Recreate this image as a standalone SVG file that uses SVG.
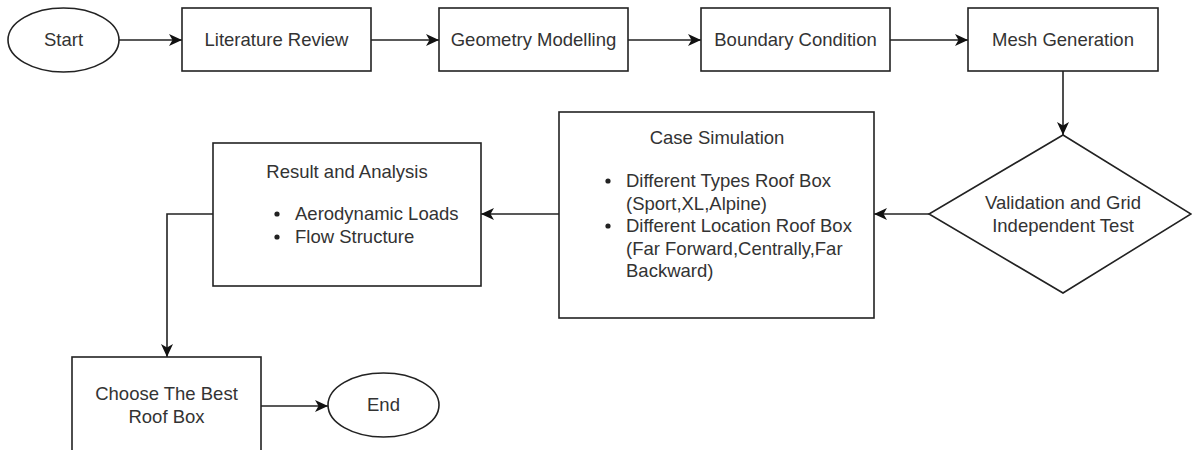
<svg xmlns="http://www.w3.org/2000/svg" width="1192" height="450" viewBox="0 0 1192 450">
<style>
.shape{fill:#fff;stroke:#222;stroke-width:1.6}
.edge{fill:none;stroke:#222;stroke-width:1.6}
text{font-family:"Liberation Sans",Arial,sans-serif;font-size:18.5px;fill:#333}
.c{text-anchor:middle}
.dot{fill:#222}
</style>
<defs>
<marker id="arr" markerUnits="userSpaceOnUse" markerWidth="14" markerHeight="12" refX="13" refY="6" orient="auto">
<path d="M0,0 L13,6 L0,12 L3.5,6 Z" fill="#111"/>
</marker>
</defs>
<rect width="1192" height="450" fill="#fff"/>
<g id="connectors">
<path class="edge" d="M119,40 H182" marker-end="url(#arr)"/>
<path class="edge" d="M371,40 H439" marker-end="url(#arr)"/>
<path class="edge" d="M628,40 H701" marker-end="url(#arr)"/>
<path class="edge" d="M890,40 H968" marker-end="url(#arr)"/>
<path class="edge" d="M1063,71 V135" marker-end="url(#arr)"/>
<path class="edge" d="M929,214 H874" marker-end="url(#arr)"/>
<path class="edge" d="M559,214 H481" marker-end="url(#arr)"/>
<path class="edge" d="M213,214 H167 V357" marker-end="url(#arr)"/>
<path class="edge" d="M261,406 H328" marker-end="url(#arr)"/>
</g>
<g id="start">
<ellipse class="shape" cx="63.5" cy="40" rx="55.5" ry="32"/>
<text class="c" x="63.5" y="46">Start</text>
</g>
<g id="literature">
<rect class="shape" x="182" y="8" width="189" height="63"/>
<text class="c" x="276.5" y="46">Literature Review</text>
</g>
<g id="geometry">
<rect class="shape" x="439" y="8" width="189" height="63"/>
<text class="c" x="533.5" y="46">Geometry Modelling</text>
</g>
<g id="boundary">
<rect class="shape" x="701" y="8" width="189" height="63"/>
<text class="c" x="795.5" y="46">Boundary Condition</text>
</g>
<g id="mesh">
<rect class="shape" x="968" y="8" width="190" height="63"/>
<text class="c" x="1063" y="46">Mesh Generation</text>
</g>
<g id="validation">
<polygon class="shape" points="1063,135 1191,214 1063,293 929,214"/>
<text class="c" x="1063" y="209">Validation and Grid</text>
<text class="c" x="1063" y="232">Independent Test</text>
</g>
<g id="case">
<rect class="shape" x="559" y="112" width="315" height="206"/>
<text class="c" x="717" y="144">Case Simulation</text>
<circle class="dot" cx="608" cy="181" r="2.6"/>
<circle class="dot" cx="608" cy="226" r="2.6"/>
<text x="626" y="187">Different Types Roof Box</text>
<text x="626" y="209.5">(Sport,XL,Alpine)</text>
<text x="626" y="232">Different Location Roof Box</text>
<text x="626" y="254.5">(Far Forward,Centrally,Far</text>
<text x="626" y="277">Backward)</text>
</g>
<g id="result">
<rect class="shape" x="213" y="143" width="268" height="143"/>
<text class="c" x="347" y="178">Result and Analysis</text>
<circle class="dot" cx="277" cy="214" r="2.6"/>
<circle class="dot" cx="277" cy="237" r="2.6"/>
<text x="295" y="220">Aerodynamic Loads</text>
<text x="295" y="243">Flow Structure</text>
</g>
<g id="choose">
<rect class="shape" x="72" y="357" width="189" height="100"/>
<text class="c" x="166.5" y="400">Choose The Best</text>
<text class="c" x="166.5" y="423">Roof Box</text>
</g>
<g id="end">
<ellipse class="shape" cx="383.5" cy="405" rx="55.5" ry="32"/>
<text class="c" x="383.5" y="411">End</text>
</g>
</svg>
